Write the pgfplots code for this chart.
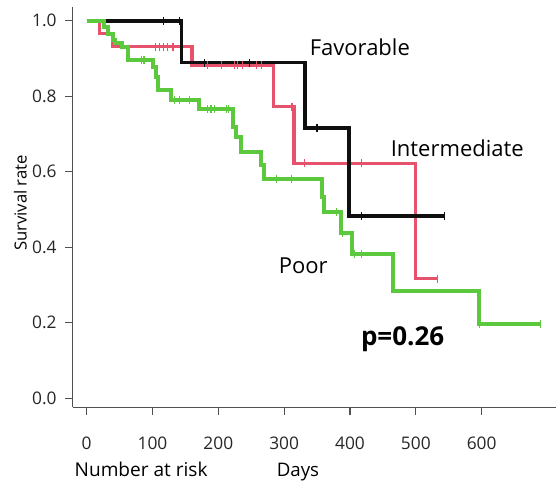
\documentclass[border=0pt]{standalone}
\usepackage{fontspec}
\setmainfont{Open Sans}
\usepackage{pgfplots}
\pgfplotsset{compat=1.18}
\definecolor{favBlack}{RGB}{15,15,15}
\definecolor{intRed}{RGB}{230,82,108}
\definecolor{poorGreen}{RGB}{92,200,62}
\definecolor{axisGray}{RGB}{80,80,80}

\begin{document}
\begin{tikzpicture}
\path[use as bounding box] (-54.5pt,-58.5pt) rectangle (362.5pt,305.5pt);
\begin{axis}[
    at={(0,0)}, anchor=south west,
    scale only axis, width=362.5pt, height=300.45pt,
    xmin=-21.3, xmax=713, ymin=-0.0238, ymax=1.037,
    axis x line*=bottom, axis y line*=left,
    axis line style={axisGray, line width=0.8pt},
    tick style={axisGray, line width=0.8pt},
    tick align=outside, major tick length=5.5pt,
    xtick={0,100,200,300,400,500,600},
    ytick={0,0.2,0.4,0.6,0.8,1},
    yticklabels={0.0,0.2,0.4,0.6,0.8,1.0},
    /pgf/number format/assume math mode=true,
    ticklabel style={font=\fontsize{13}{15}\selectfont, text=black!85},
    xticklabel style={anchor=base, yshift=-26pt},
    yticklabel style={anchor=east, xshift=-3pt},
    ylabel={Survival rate},
    every axis y label/.style={at={(rel axis cs:-0.108,0.51)}, rotate=90, anchor=center,
        font=\fontsize{12.5}{14}\selectfont},
    clip=false,
]
% survival curves
\addplot[const plot, intRed, line width=2.4pt] coordinates {
    (0,1) (20,0.966) (40,0.931) (160,0.882) (284,0.772) (315,0.622) (499,0.317) (533,0.317)
};
\addplot[const plot, favBlack, line width=2.8pt] coordinates {
    (0,1) (144,0.889) (332,0.715) (399,0.482) (543,0.482)
};
\addplot[const plot, poorGreen, line width=3pt] coordinates {
    (0,1) (27,0.984) (32,0.966) (40,0.948) (43,0.94) (53,0.931) (63,0.897) (100,0.878)
    (105,0.851) (108,0.816) (128,0.791) (170,0.765) (223,0.719) (227,0.692) (234,0.652)
    (265,0.617) (270,0.582) (358,0.533) (361,0.494) (386,0.438) (403,0.381) (466,0.285)
    (596,0.196) (690,0.196)
};
% censored cases
\addplot[only marks, mark=|, mark size=3pt, intRed, mark options={line width=0.9pt}] coordinates {
    (105,0.931) (111,0.931) (117,0.931) (123,0.931) (131,0.931) (184,0.882) (205,0.882)
    (225,0.882) (229,0.882) (237,0.882) (258,0.882) (266,0.882) (312,0.772) (331,0.622)
    (417,0.622) (533,0.317)
};
\addplot[only marks, mark=|, mark size=3pt, favBlack, mark options={line width=0.9pt}] coordinates {
    (117,1) (141,1) (179,0.889) (247,0.889) (350,0.715) (418,0.482) (543,0.482)
};
\addplot[only marks, mark=|, mark size=3pt, poorGreen, mark options={line width=0.9pt}] coordinates {
    (83,0.897) (87,0.897) (134,0.791) (141,0.791) (156,0.791) (184,0.765) (189,0.765)
    (194,0.765) (212,0.765) (216,0.765) (288,0.582) (311,0.582) (379,0.494) (389,0.438)
    (407,0.381) (418,0.381) (597,0.196) (690,0.196)
};
\node[font=\fontsize{16.5}{19}\selectfont] at (axis cs:415,0.930) {Favorable};
\node[font=\fontsize{16.5}{19}\selectfont] at (axis cs:563,0.663) {Intermediate};
\node[font=\fontsize{16.5}{19}\selectfont] at (axis cs:329,0.351) {Poor};
\node[font=\fontsize{19.5}{22}\selectfont\bfseries] at (axis cs:480,0.157) {p=0.26};
\node[anchor=base west, font=\fontsize{14.3}{17}\selectfont] at (axis cs:-25.4,-0.2076) {Number at risk};
\node[anchor=base, font=\fontsize{14}{17}\selectfont] at (axis cs:321,-0.2076) {Days};
\end{axis}
\end{tikzpicture}
\end{document}
